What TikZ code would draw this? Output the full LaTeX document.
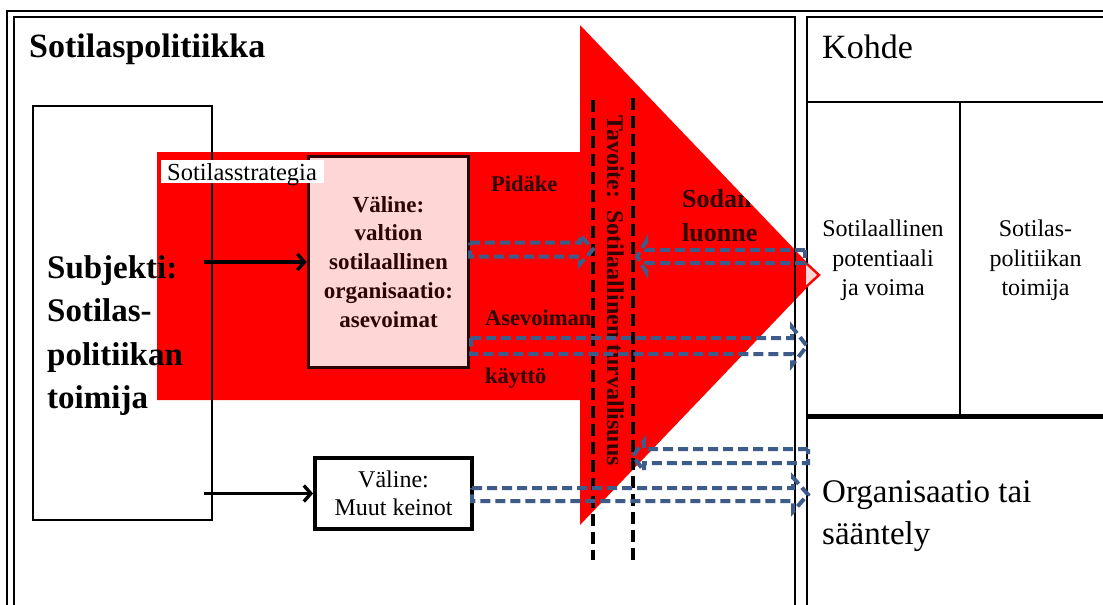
\documentclass[tikz,border=0pt]{standalone}
\usepackage{fontspec}
\setmainfont{Liberation Serif}
\usetikzlibrary{arrows.meta}
\definecolor{arrred}{RGB}{255,0,0}
\definecolor{pinkfill}{RGB}{255,214,214}
\definecolor{darktxt}{RGB}{45,5,5}
\definecolor{dashblue}{RGB}{62,92,138}
\newcommand\fsz[1]{\fontsize{#1}{#1}\selectfont}
\newcommand\blockR[6]{\draw[bluedash] (#1,{#3-#4}) -- ({#2-#6},{#3-#4}) -- ({#2-#6},{#3-#5}) -- (#2,#3) -- ({#2-#6},{#3+#5}) -- ({#2-#6},{#3+#4}) -- (#1,{#3+#4}) -- cycle;}
\newcommand\blockL[6]{\draw[bluedash] (#2,{#3-#4}) -- ({#1+#6},{#3-#4}) -- ({#1+#6},{#3-#5}) -- (#1,#3) -- ({#1+#6},{#3+#5}) -- ({#1+#6},{#3+#4}) -- (#2,{#3+#4}) -- cycle;}
\begin{document}
\begin{tikzpicture}[x=1pt,y=-1pt,
  panel/.style={draw=black, line width=2.8pt},
  txt/.style={inner sep=0pt, anchor=base},
  txtw/.style={inner sep=0pt, anchor=base west},
  bluedash/.style={draw=dashblue, line width=4pt, dash pattern=on 10pt off 5pt},
  blackdash/.style={draw=black, line width=4.2pt, dash pattern=on 12pt off 6pt},
  conn/.style={line width=3.4pt, -{Straight Barb[length=7pt,width=16pt]}},
  boxnode/.style={draw, inner sep=0pt}]
\useasboundingbox (0,0) rectangle (1103,605);
\fill[white] (0,0) rectangle (1103,605);
% outer frame
\draw[line width=2.5pt] (7,11) rectangle (1115,625);
% red arrow
\def\arrowpath{(157,152) -- (580,152) -- (580,25) -- (819,275) -- (580,525) -- (580,400) -- (157,400) -- cycle}
\fill[arrred] \arrowpath;
% subject box
\node[boxnode, line width=2.8pt, minimum width=179pt, minimum height=414pt] (subj) at (122.5,313) {};
\node[txtw, font=\fsz{33}\bfseries] (s1) at (47,278) {Subjekti:};
\node[txtw, font=\fsz{33}\bfseries] (s2) at (47,321) {Sotilas-};
\node[txtw, font=\fsz{33}\bfseries] (s3) at (47,365) {politiikan};
\node[txtw, font=\fsz{33}\bfseries] (s4) at (47,408) {toimija};
% title
\node[txtw, font=\fsz{34}\bfseries] (title) at (29,57) {Sotilaspolitiikka};
% Väline box
\node[boxnode, fill=pinkfill, draw=darktxt, line width=3.8pt, minimum width=160pt, minimum height=211pt] (valine) at (388.5,262) {};
\foreach \t/\yy/\nm in {Väline:/212/v1, valtion/240/v2, sotilaallinen/269/v3, organisaatio:/298/v4, asevoimat/327/v5}
  \node[txt, text=darktxt, font=\fsz{23}\bfseries] (\nm) at (388.5,\yy) {\t};
% Sotilasstrategia label
\node[fill=white, inner sep=0pt, minimum width=163pt, minimum height=23pt] (strat) at (242.5,171.5) {};
\node[txtw, font=\fsz{24.5}] (stratt) at (167,180) {Sotilasstrategia};
% Muut keinot box
\node[boxnode, line width=3.8pt, minimum width=157pt, minimum height=71pt] (muut) at (393.5,493.5) {};
\node[txt, font=\fsz{24}] (m1) at (393.5,487) {Väline:};
\node[txt, font=\fsz{24}] (m2) at (393.5,515) {Muut keinot};
% connectors
\coordinate (a1) at (204,262);
\coordinate (a2) at (204,493.5);
\draw[conn] (a1) -- (valine.west);
\draw[conn] (a2) -- (muut.west);
% labels in red
\begin{scope}
\clip \arrowpath;
\node[txtw, text=darktxt, font=\fsz{22.5}\bfseries] (pid) at (491,191) {Pidäke};
\node[txtw, text=darktxt, font=\fsz{26}\bfseries] (sod1) at (682,207) {Sodan};
\node[txtw, text=darktxt, font=\fsz{26}\bfseries] (sod2) at (682,241) {luonne};
\node[txtw, text=darktxt, font=\fsz{22.5}\bfseries] (ase1) at (485,325) {Asevoiman};
\node[txtw, text=darktxt, font=\fsz{22.5}\bfseries] (ase2) at (485,383) {käyttö};
\end{scope}
\node[txtw, rotate=-90, text=darktxt, font=\fsz{24}\bfseries] (tav) at (607,115) {Tavoite:\ \ Sotilaallinen turvallisuus};
% black dashed verticals
\draw[blackdash] (593,100) -- (593,560);
\draw[blackdash] (633,98) -- (633,560);
% panels
\draw[panel] (14,17) rectangle (795,625);
\fill[white] (807,17) rectangle (1115,625);
\draw[panel] (807,17) rectangle (1115,625);
% tip of arrow inside Kohde
\fill[pinkfill] (806,263) -- (819,275) -- (806,287) -- cycle;
\draw[arrred, line width=2.4pt] (806,263) -- (819,275) -- (806,287);
% blue dashed block arrows
\blockR{470}{593}{249.5}{7}{14.5}{13}
\blockL{637}{805}{256.5}{6.5}{15}{9}
\blockR{471}{807}{346}{8}{19}{15}
\blockL{633}{808}{456}{7}{15}{11}
\blockR{472}{808}{494.5}{6.5}{17}{15}
% Kohde panel content
\node[txtw, font=\fsz{34}] (kohde) at (822,58) {Kohde};
\draw[line width=2.8pt] (807,102) -- (1115,102);
\draw[line width=2.8pt] (960,102) -- (960,416);
\draw[line width=5pt] (807,416) -- (1115,416);
\node[txt, font=\fsz{24}] (p1) at (883,236) {Sotilaallinen};
\node[txt, font=\fsz{24}] (p2) at (883,266) {potentiaali};
\node[txt, font=\fsz{24}] (p3) at (883,295) {ja voima};
\node[txt, font=\fsz{24}] (t1) at (1035.5,236) {Sotilas-};
\node[txt, font=\fsz{24}] (t2) at (1035.5,266) {politiikan};
\node[txt, font=\fsz{24}] (t3) at (1035.5,295) {toimija};
\node[txtw, font=\fsz{33}] (o1) at (822,502) {Organisaatio tai};
\node[txtw, font=\fsz{33}] (o2) at (822,544) {sääntely};
\end{tikzpicture}
\end{document}
